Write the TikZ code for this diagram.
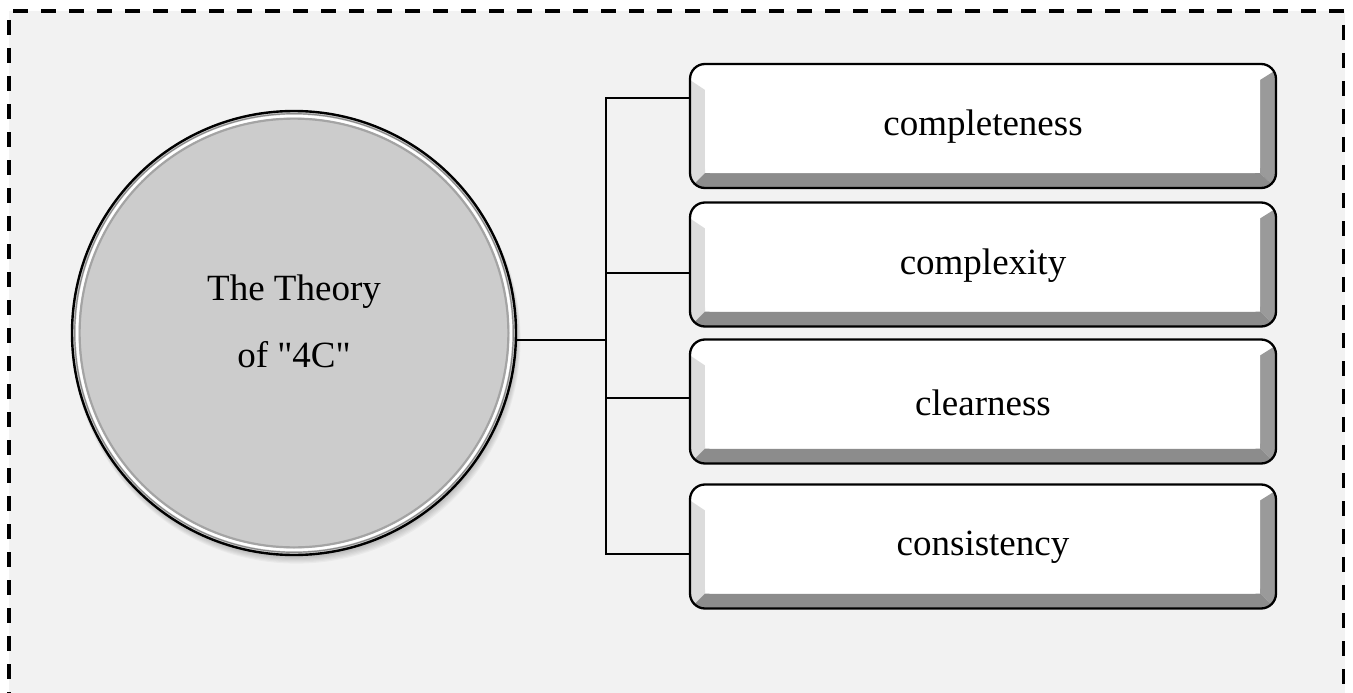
\documentclass[tikz,border=0pt]{standalone}
\usepackage{fontspec}
\setmainfont{Liberation Serif}[Ligatures=TeXOff]
\usetikzlibrary{calc}
\definecolor{bgray}{HTML}{F2F2F2}
\definecolor{cfill}{HTML}{CCCCCC}
\definecolor{bevlight}{HTML}{DCDCDC}
\definecolor{bevmid}{HTML}{9A9A9A}
\definecolor{bevdark}{HTML}{8C8C8C}
\definecolor{ringgray}{HTML}{8A8A8A}
\newcommand{\lblfont}{\fontsize{37pt}{44pt}\selectfont}
\begin{document}
\begin{tikzpicture}[x=1pt,y=-1pt,
  framedash/.style={line width=3.4pt, dash pattern=on 15pt off 13pt},
  conn/.style={line width=2.3pt, line cap=rect},
  bevelbox/.style={rectangle, rounded corners=15pt, minimum width=586pt,
    minimum height=124pt, inner sep=0pt, outer sep=0pt, draw=black,
    line width=2.3pt, fill=white,
    path picture={
      \fill[bevlight, sharp corners]
        ([yshift=-16pt]path picture bounding box.north west) --
        ([xshift=15pt,yshift=-26pt]path picture bounding box.north west) --
        ([xshift=15pt,yshift=15pt]path picture bounding box.south west) --
        (path picture bounding box.south west) -- cycle;
      \fill[bevmid, sharp corners]
        ([yshift=-6pt]path picture bounding box.north east) --
        ([xshift=-16pt,yshift=-16pt]path picture bounding box.north east) --
        ([xshift=-16pt,yshift=15pt]path picture bounding box.south east) --
        (path picture bounding box.south east) -- cycle;
      \fill[bevdark, sharp corners]
        (path picture bounding box.south west) --
        ([xshift=15pt,yshift=15pt]path picture bounding box.south west) --
        ([xshift=-16pt,yshift=15pt]path picture bounding box.south east) --
        (path picture bounding box.south east) -- cycle;
      \fill[white, rounded corners=5pt]
        ([xshift=15pt,yshift=-2pt]path picture bounding box.north west) rectangle
        ([xshift=-16pt,yshift=15pt]path picture bounding box.south east);
    }},
  boxlabel/.style={font=\lblfont, anchor=base, yshift=-1pt},
  bigcircle/.style={circle, minimum size=444pt, inner sep=0pt, outer sep=0pt,
    fill=cfill, draw=black, line width=2.4pt,
    path picture={
      \draw[ringgray, line width=1.2pt] (path picture bounding box.center) circle (219.3pt);
      \draw[white, line width=2.8pt] (path picture bounding box.center) circle (216.8pt);
      \draw[bevmid, line width=2.2pt, opacity=0.8] (path picture bounding box.center) circle (214.4pt);
    }}
]
\useasboundingbox (0,0) rectangle (1353,693);
% background and dashed frame
\fill[bgray] (9,11) rectangle (1345,693);
\draw[framedash] (13,11) -- (1345,11);
\draw[framedash] (9,20) -- (9,693);
\draw[framedash] (1343.3,25) -- (1343.3,693);

% circle shadow
\coordinate (cc) at (294,333);
\foreach \i in {1,...,8}
  \fill[black, opacity=0.035] ($(cc)+(0.3*\i,0.8*\i)$) circle ({221pt+0.4pt*\i});

\node[bigcircle, label={[font=\lblfont, align=center, yshift=12pt]center:The Theory\\[23pt]of "4C"}] (c) at (cc) {};

% boxes
\node[bevelbox, label={[boxlabel]center:completeness}] (b1) at (983,126) {};
\node[bevelbox, label={[boxlabel]center:complexity}]   (b2) at (983,264.5) {};
\node[bevelbox, label={[boxlabel]center:clearness}]    (b3) at (983,401.5) {};
\node[bevelbox, label={[boxlabel]center:consistency}]  (b4) at (983,546.5) {};

% connectors
\coordinate (t1) at (606,98);
\coordinate (t2) at (606,273);
\coordinate (t3) at (606,398);
\coordinate (t4) at (606,554);
\coordinate (tm) at (606,340);
\draw[conn] (t1) -- (t4);
\draw[conn] (tm -| c.east) -- (tm);
\draw[conn] (t1) -- (t1 -| b1.west);
\draw[conn] (t2) -- (t2 -| b2.west);
\draw[conn] (t3) -- (t3 -| b3.west);
\draw[conn] (t4) -- (t4 -| b4.west);
\end{tikzpicture}
\end{document}
